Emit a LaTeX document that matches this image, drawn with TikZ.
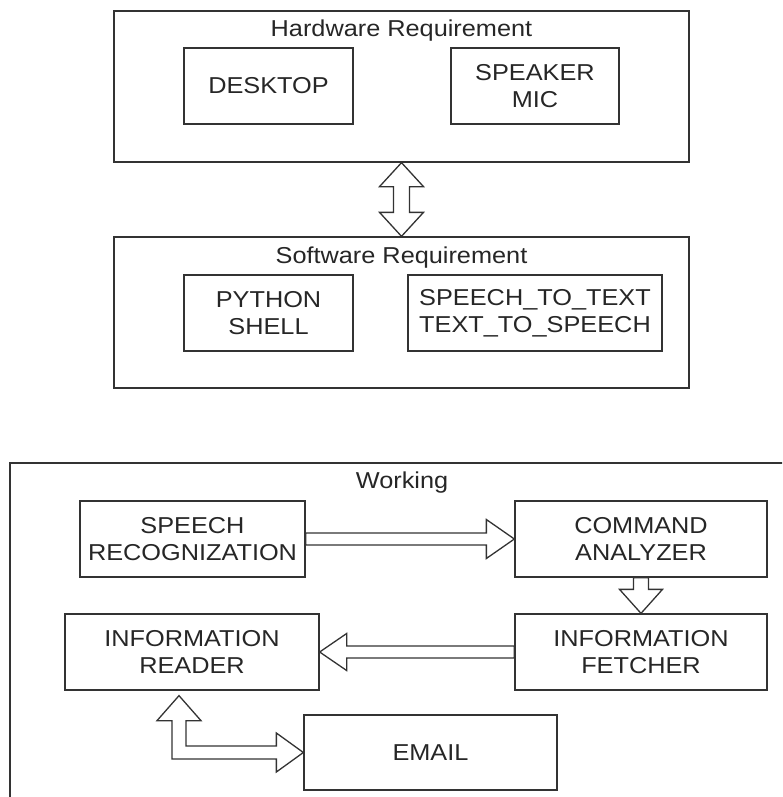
\documentclass[tikz,border=0pt]{standalone}
\usepackage{fontspec}
\setmainfont{Liberation Sans}[FakeStretch=1.1]
\usetikzlibrary{calc}
\begin{document}
\begin{tikzpicture}[x=1pt,y=-1pt, line width=1.3pt,
  box/.style={draw=black!80, text=black!85, rectangle, inner sep=0pt, align=center, minimum height=76pt, font=\fontsize{23}{27}\selectfont},
  group/.style={draw=black!80, rectangle, inner sep=0pt},
  lbl/.style={text=black!85, inner sep=0pt, anchor=base, font=\fontsize{23}{27}\selectfont},
  blk/.style={draw=black!80, fill=white, line join=miter}]
\path[use as bounding box] (0,0) rectangle (782,797);
% groups
\node[group, minimum width=575pt, minimum height=151pt] (hw) at (401.5,86.5) {};
\node[group, minimum width=575pt, minimum height=151pt] (sw) at (401.5,312.5) {};
\begin{scope}
\clip (0,0) rectangle (782,797);
\node[group, minimum width=782pt, minimum height=344pt] (wk) at (401,635) {};
\end{scope}
\node[lbl] (hwt) at (401.5,37) {Hardware Requirement};
\node[lbl] (swt) at (401.5,263) {Software Requirement};
\node[lbl] (wkt) at (402,488) {Working};
% hardware
\node[box, minimum width=169pt] (desk) at (268.5,86) {DESKTOP};
\node[box, minimum width=168pt] (spk) at (535,86) {SPEAKER\\MIC};
% software
\node[box, minimum width=169pt] (py) at (268.5,313) {PYTHON\\SHELL};
\node[box, minimum width=254pt] (stt) at (535,313) {SPEECH\_TO\_TEXT\\TEXT\_TO\_SPEECH};
% working
\node[box, minimum width=225pt] (sr) at (192.5,539) {SPEECH\\RECOGNIZATION};
\node[box, minimum width=252pt] (ca) at (641,539) {COMMAND\\ANALYZER};
\node[box, minimum width=254pt] (ir) at (192,652) {INFORMATION\\READER};
\node[box, minimum width=252pt] (if) at (641,652) {INFORMATION\\FETCHER};
\node[box, minimum width=253pt, minimum height=75pt] (em) at (430.5,752.5) {EMAIL};
% hw <-> sw
\draw[blk] (hw.south) -- ++(22,24) -- ++(-14,0) -- ($(sw.north)+(8,-24)$) -- ++(14,0) -- (sw.north)
  -- ++(-22,-24) -- ++(14,0) -- ($(hw.south)+(-8,24)$) -- ++(-14,0) -- cycle;
% SR -> CA
\draw[blk] ($(sr.east)+(0,-6)$) -- ($(ca.west)+(-28,-6)$) -- ++(0,-13.5) -- (ca.west)
  -- ($(ca.west)+(-28,19.5)$) -- ++(0,-13.5) -- ($(sr.east)+(0,6)$) -- cycle;
% CA -> IF
\draw[blk] ($(ca.south)+(-7.5,0)$) -- ($(if.north)+(-7.5,-24)$) -- ++(-14,0) -- (if.north)
  -- ($(if.north)+(21.5,-24)$) -- ++(-14,0) -- ($(ca.south)+(7.5,0)$) -- cycle;
% IF -> IR
\draw[blk] ($(if.west)+(0,-6)$) -- ($(ir.east)+(27,-6)$) -- ++(0,-12.5) -- (ir.east)
  -- ($(ir.east)+(27,18.5)$) -- ++(0,-12.5) -- ($(if.west)+(0,6)$) -- cycle;
% IR <-> EMAIL
\coordinate (t1) at ($(ir.south)+(-13,5)$);
\coordinate (t2) at (em.west);
\coordinate (cn) at (t1 |- t2);
\draw[blk] (t1) -- ++(22,25) -- ++(-15,0) -- ($(cn)+(7,-6.5)$) -- ($(t2)+(-27,-6.5)$) -- ++(0,-13) -- (t2)
  -- ($(t2)+(-27,19.5)$) -- ++(0,-13) -- ($(cn)+(-7,6.5)$) -- ($(t1)+(-7,25)$) -- ++(-15,0) -- cycle;
\end{tikzpicture}
\end{document}
